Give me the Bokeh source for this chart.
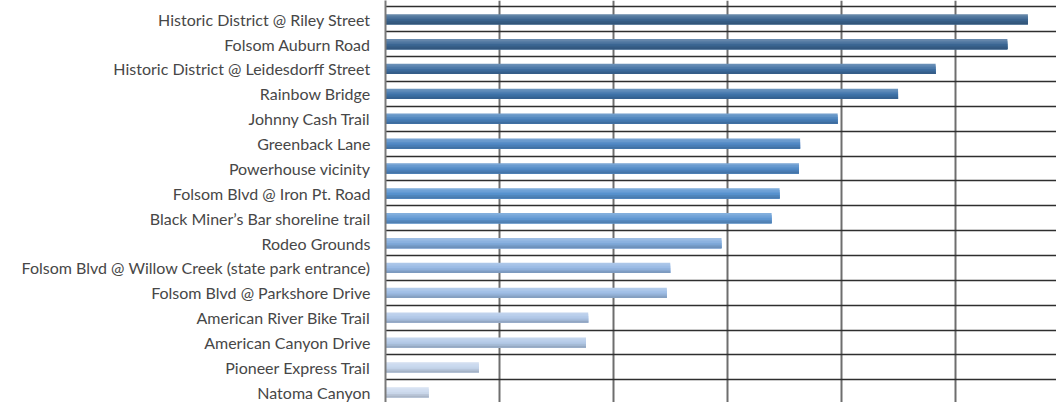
from bokeh.plotting import figure
from bokeh.models import Range1d, FixedTicker, ColumnDataSource
from bokeh.embed import file_html
from bokeh.resources import INLINE

categories = [
    "Historic District @ Riley Street",
    "Folsom Auburn Road",
    "Historic District @ Leidesdorff Street",
    "Rainbow Bridge",
    "Johnny Cash Trail",
    "Greenback Lane",
    "Powerhouse vicinity",
    "Folsom Blvd @ Iron Pt. Road",
    "Black Miner\u2019s Bar shoreline trail",
    "Rodeo Grounds",
    "Folsom Blvd @ Willow Creek (state park entrance)",
    "Folsom Blvd @ Parkshore Drive",
    "American River Bike Trail",
    "American Canyon Drive",
    "Pioneer Express Trail",
    "Natoma Canyon",
]
values = [56.4, 54.6, 48.3, 45.0, 39.7, 36.4, 36.3, 34.6, 33.9, 29.5, 25.0, 24.7, 17.8, 17.6, 8.2, 3.8]
grid_ticks = [10, 20, 30, 40, 50, 60]

# mid-tone colour per row (top -> bottom)
base_colors = ["#3b6590", "#3c6896", "#3f6fa2", "#3f74ab", "#4a82bd", "#4f88c5",
               "#528bc8", "#5793d0", "#6098d3", "#82acdd", "#95b7e3", "#9dbde5",
               "#afc7e8", "#b3cae8", "#c5d5ec", "#ccdaee"]


def shade(hexc, f):
    r, g, b = int(hexc[1:3], 16), int(hexc[3:5], 16), int(hexc[5:7], 16)
    if f >= 0:
        r, g, b = [c + (255 - c) * f for c in (r, g, b)]
    else:
        r, g, b = [c * (1 + f) for c in (r, g, b)]
    return "#%02x%02x%02x" % tuple(int(round(max(0, min(255, c)))) for c in (r, g, b))


n = len(categories)
ys = list(range(n))
bar_h = 0.41
strips = 6
factors = [0.22, 0.14, 0.06, -0.02, -0.09, -0.16]

p = figure(width=1056, height=402, output_backend="svg", toolbar_location=None,
           x_range=Range1d(0, 671 / 113.9 * 10), y_range=Range1d(15.41, -0.753),
           min_border_left=385, min_border_right=0, min_border_top=0, min_border_bottom=0)

# vertical gradient: each strip spans from its own top edge down to the bar bottom,
# drawn top-to-bottom so that later strips cover the lower part (no seams)
for k in range(strips):
    top_off = -bar_h / 2 + k * bar_h / strips
    bottom_off = bar_h / 2
    src = ColumnDataSource(dict(y=[y + (top_off + bottom_off) / 2 for y in ys], right=values,
                                color=[shade(c, factors[k]) for c in base_colors]))
    p.hbar(y="y", left=0, right="right", height=bottom_off - top_off, source=src,
           fill_color="color", line_color=None)

p.xaxis.visible = False
p.xgrid.ticker = FixedTicker(ticks=grid_ticks)
p.xgrid.grid_line_color = "#6e6e6e"
p.xgrid.grid_line_width = 2

p.ygrid.ticker = FixedTicker(ticks=[i - 0.5 for i in range(n)])
p.ygrid.grid_line_color = "#2e2e2e"
p.ygrid.grid_line_width = 1.6

ax = p.yaxis[0]
ax.ticker = FixedTicker(ticks=ys)
ax.major_label_overrides = {i: c for i, c in enumerate(categories)}
ax.major_tick_out = 0
ax.major_tick_in = 0
ax.minor_tick_out = 0
ax.minor_tick_in = 0
ax.axis_line_color = "#7a7a7a"
ax.axis_line_width = 2
ax.major_label_text_font = "Lato"
ax.major_label_text_font_size = "16px"
ax.major_label_text_color = "#474747"
ax.major_label_standoff = 15

p.outline_line_color = None
p.background_fill_color = "white"
p.border_fill_color = "white"

open("out.html", "w").write(file_html(p, INLINE))
